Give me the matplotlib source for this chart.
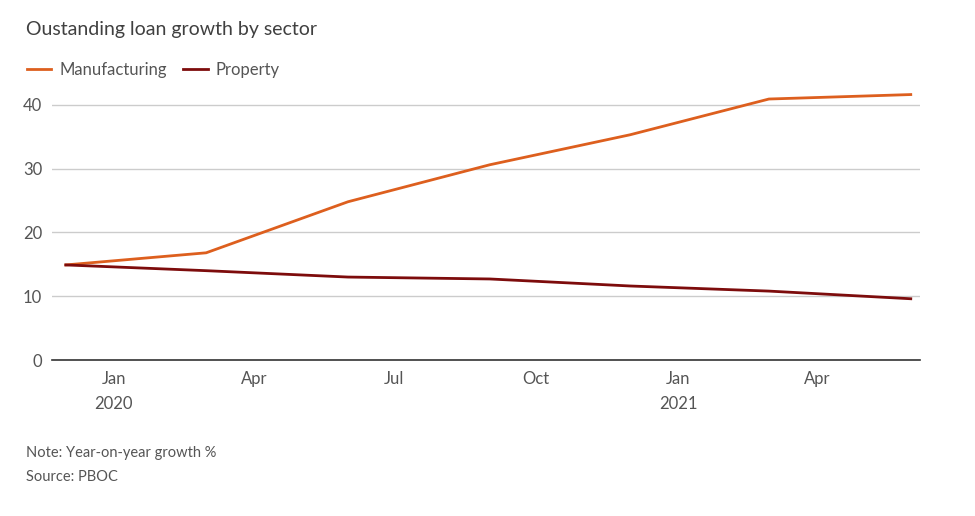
import numpy as np
import pandas as pd
import matplotlib
matplotlib.use('Agg')
import matplotlib.pyplot as plt

dates = pd.to_datetime(['2019-12-01', '2020-03-01', '2020-06-01', '2020-09-01',
                        '2020-12-01', '2021-03-01', '2021-06-01'])
manufacturing = [14.9, 16.8, 24.8, 30.6, 35.3, 40.9, 41.6]
property_loans = [14.9, 14.0, 13.0, 12.7, 11.6, 10.8, 9.6]

tick_dates = pd.to_datetime(['2020-01-01', '2020-04-01', '2020-07-01', '2020-10-01',
                             '2021-01-01', '2021-04-01'])
tick_labels = ['Jan\n2020', 'Apr', 'Jul', 'Oct', 'Jan\n2021', 'Apr']

plt.rcParams['font.family'] = ['Lato', 'DejaVu Sans']
text_col = '#555555'

fig = plt.figure(figsize=(9.75, 5.16), dpi=100)
ax = fig.add_axes([0.0533, 0.3023, 0.8903, 0.5194])

ax.plot(dates, manufacturing, color='#dd5f1e', lw=2, label='Manufacturing')
ax.plot(dates, property_loans, color='#7d0c0c', lw=2, label='Property')

ax.set_ylim(0, 42)
ax.set_yticks([0, 10, 20, 30, 40])
ax.set_xlim(pd.Timestamp('2019-11-22'), pd.Timestamp('2021-06-07'))
ax.set_xticks(tick_dates)
ax.set_xticklabels(tick_labels)

ax.grid(axis='y', color='#cccccc', lw=1)
ax.set_axisbelow(True)
for s in ['top', 'right', 'left']:
    ax.spines[s].set_visible(False)
ax.spines['bottom'].set_color('#333333')
ax.spines['bottom'].set_linewidth(1.2)
ax.tick_params(axis='both', length=0, labelsize=12, labelcolor=text_col, pad=8)
ax.tick_params(axis='y', pad=7)
for lbl in ax.get_xticklabels():
    lbl.set_linespacing(1.7)

fig.text(0.027, 0.942, 'Oustanding loan growth by sector', fontsize=14, color='#404040',
         va='center')
ax.legend(loc='center left', bbox_to_anchor=(0.012, 0.865), bbox_transform=fig.transFigure,
          ncol=2, frameon=False, fontsize=12, handlelength=1.45, handletextpad=0.5,
          columnspacing=1.0, labelcolor=text_col)

fig.text(0.027, 0.122, 'Note: Year-on-year growth %', fontsize=10.5, color=text_col, va='center')
fig.text(0.027, 0.075, 'Source: PBOC', fontsize=10.5, color=text_col, va='center')

fig.savefig('out.png', dpi=100)
